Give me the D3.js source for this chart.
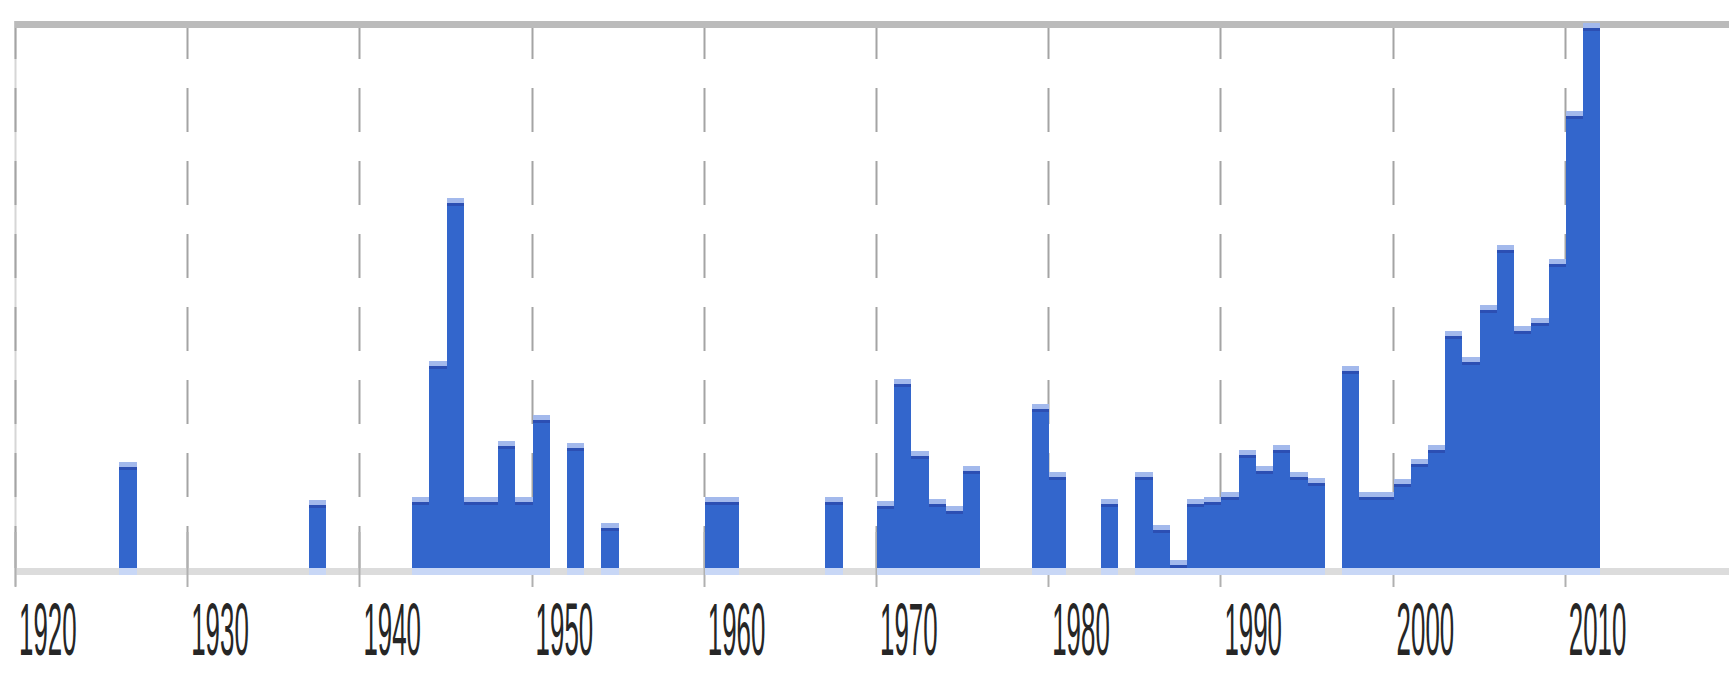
<!DOCTYPE html>
<html>
<head>
<meta charset="utf-8">
<script src="https://cdn.jsdelivr.net/npm/d3@7"></script>
<style>
  html, body { margin: 0; padding: 0; background: #ffffff; }
  svg { display: block; }
</style>
</head>
<body>
<svg id="chart" width="1729" height="676"></svg>
<script>
// ---- data (relative volume per year; 100 = top of plot) ----
const years = [1926, 1937, 1943, 1944, 1945, 1946, 1947, 1948, 1949, 1950,
               1952, 1954, 1960, 1961, 1967, 1970, 1971, 1972, 1973, 1974,
               1975, 1979, 1980, 1983, 1985, 1986, 1987, 1988, 1989, 1990,
               1991, 1992, 1993, 1994, 1995, 1997, 1998, 1999, 2000, 2001,
               2002, 2003, 2004, 2005, 2006, 2007, 2008, 2009, 2010, 2011];
const values = [19.3, 12.4, 13.0, 37.8, 67.7, 13.0, 13.0, 23.2, 13.0, 28.0,
                22.8, 8.3, 13.0, 13.0, 13.0, 12.2, 34.6, 21.3, 12.6, 11.4,
                18.7, 30.0, 17.5, 12.6, 17.5, 7.9, 1.5, 12.6, 13.0, 13.9,
                21.5, 18.7, 22.4, 17.5, 16.5, 37.0, 13.9, 13.9, 16.3, 20.0,
                22.4, 43.3, 38.6, 48.0, 59.0, 44.3, 45.7, 56.5, 83.5, 99.6];
const tickYears = [1920, 1930, 1940, 1950, 1960, 1970, 1980, 1990, 2000, 2010];
const tickLabels = ["1920", "1930", "1940", "1950", "1960", "1970", "1980", "1990", "2000", "2010"];
const yearDomain = [1920, 2020];
const valueMax = 100;

// ---- layout ----
const svg = d3.select("#chart");
const plotLeft = 15, plotRight = 1737;
const plotTop = 21, plotBottom = 568;

const x = d3.scaleLinear().domain(yearDomain).range([plotLeft, plotRight]);
const y = d3.scaleLinear().domain([0, valueMax]).range([plotBottom, plotTop]);

const barColor = "#3366cc";

// baseline (light gray band)
svg.append("rect")
  .attr("x", plotLeft).attr("y", plotBottom)
  .attr("width", 1729 - plotLeft).attr("height", 7)
  .attr("fill", "#dcdcdc");

// left edge line
svg.append("line")
  .attr("x1", x(yearDomain[0]) + 0.5).attr("x2", x(yearDomain[0]) + 0.5)
  .attr("y1", plotTop).attr("y2", plotBottom + 18)
  .attr("stroke", "#d6d6d6").attr("stroke-width", 2);

// vertical dashed gridlines
const grid = svg.append("g");
grid.selectAll("line.dash")
  .data(tickYears)
  .join("line")
  .attr("class", "dash")
  .attr("x1", d => Math.round(x(d)) + 0.5)
  .attr("x2", d => Math.round(x(d)) + 0.5)
  .attr("y1", plotTop)
  .attr("y2", plotBottom)
  .attr("stroke", "#a4a4a4")
  .attr("stroke-width", 2)
  .attr("stroke-dasharray", "44,29")
  .attr("stroke-dashoffset", 6);
// tick stubs through the baseline
grid.selectAll("line.tick")
  .data(tickYears)
  .join("line")
  .attr("class", "tick")
  .attr("x1", d => Math.round(x(d)) + 0.5)
  .attr("x2", d => Math.round(x(d)) + 0.5)
  .attr("y1", plotBottom - 36)
  .attr("y2", plotBottom + 19)
  .attr("stroke", "#b0b0b0")
  .attr("stroke-width", 2);

// bars
const bx = d => Math.round(x(d)) + 1;
const bw = d => Math.round(x(d + 1)) - Math.round(x(d));
const bars = svg.append("g").attr("shape-rendering", "crispEdges");
const data = years.map((yr, i) => ({ yr, v: values[i] }));

// bar body
bars.selectAll("rect.body")
  .data(data)
  .join("rect")
  .attr("class", "body")
  .attr("x", d => bx(d.yr))
  .attr("width", d => bw(d.yr))
  .attr("y", d => Math.round(y(d.v)))
  .attr("height", d => plotBottom - Math.round(y(d.v)))
  .attr("fill", barColor);

// dark edge just under the top cap
bars.selectAll("rect.edge")
  .data(data.filter(d => plotBottom - y(d.v) > 8))
  .join("rect")
  .attr("class", "edge")
  .attr("x", d => bx(d.yr))
  .attr("width", d => bw(d.yr))
  .attr("y", d => Math.round(y(d.v)) + 5)
  .attr("height", 3)
  .attr("fill", "#2c4fb3");

// light top cap
bars.selectAll("rect.cap")
  .data(data)
  .join("rect")
  .attr("class", "cap")
  .attr("x", d => bx(d.yr))
  .attr("width", d => bw(d.yr))
  .attr("y", d => Math.round(y(d.v)))
  .attr("height", d => Math.min(5, plotBottom - Math.round(y(d.v))))
  .attr("fill", "#a3b9ec");

// light foot over the baseline
bars.selectAll("rect.foot")
  .data(data)
  .join("rect")
  .attr("class", "foot")
  .attr("x", d => bx(d.yr))
  .attr("width", d => bw(d.yr))
  .attr("y", plotBottom)
  .attr("height", 7)
  .attr("fill", "#c8d7f6");

// top border band
svg.append("rect")
  .attr("x", plotLeft).attr("y", plotTop)
  .attr("width", 1729 - plotLeft).attr("height", 7)
  .attr("fill", "#bbbbbb");

bars.raise();

// tick labels (tall condensed digits)
svg.append("g").selectAll("text")
  .data(tickYears)
  .join("text")
  .attr("transform", (d) => `translate(${x(d) + 4},655) scale(0.35,1)`)
  .attr("font-family", "Liberation Sans, Arial, sans-serif")
  .attr("font-size", 74)
  .attr("fill", "#262626")
  .text((d, i) => tickLabels[i]);
</script>
</body>
</html>
